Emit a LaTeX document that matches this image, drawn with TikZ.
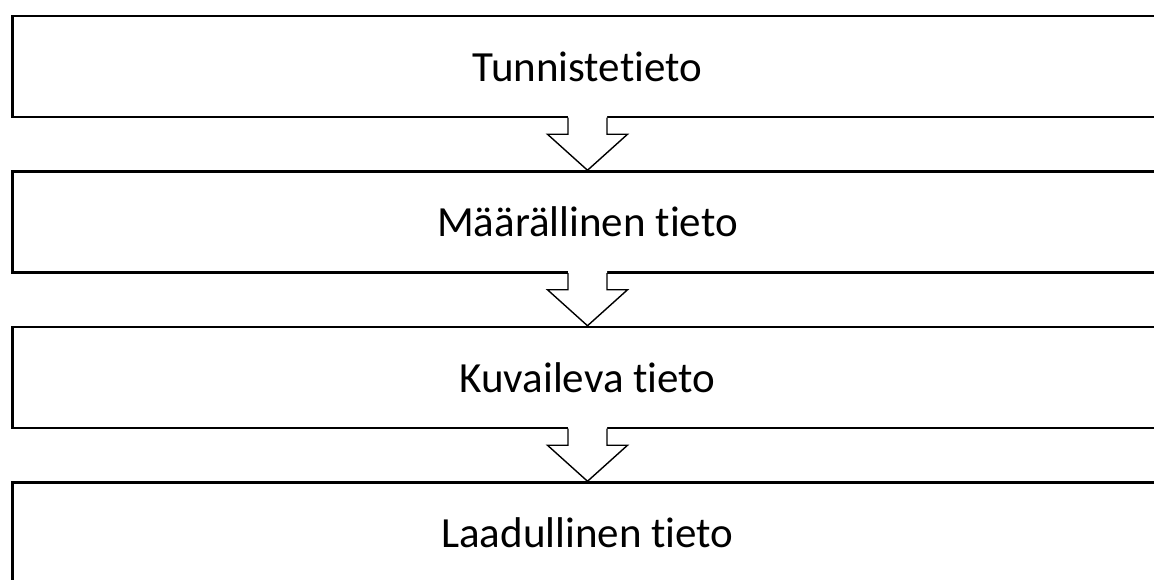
\documentclass[tikz,border=0pt]{standalone}
\usepackage{fontspec}
\setmainfont{Carlito}[Ligatures={NoCommon,NoRequired,NoContextual}]
\usetikzlibrary{calc}
\tikzset{
  stagebox/.style={draw=black, line width=2.5pt, fill=white, rectangle,
    minimum width=1150pt, minimum height=101pt, inner sep=0pt,
    font=\fontsize{43}{50}\selectfont},
  flowarrow/.style={draw=black, line width=1.4pt, line join=miter},
}
\begin{document}
\begin{tikzpicture}[x=1pt,y=-1pt]
\clip (0,0) rectangle (1154,579);
\fill[white] (0,0) rectangle (1154,579);
\node[stagebox] (b1) at (587.5,66.5) {Tunnistetieto};
\node[stagebox] (b2) at (587.5,222) {Määrällinen tieto};
\node[stagebox] (b3) at (587.5,377.5) {Kuvaileva tieto};
\node[stagebox] (b4) at (587.5,533) {Laadullinen tieto};
\foreach \u/\l in {b1/b2,b2/b3,b3/b4}{
  \fill[white] ($(\u.south)+(-19.5,-3.5)$) -- ($(\u.south)+(19.5,-3.5)$) -- ($(\u.south)+(19.5,16)$) -- ($(\u.south)+(40,16)$) -- (\l.north) -- ($(\u.south)+(-40,16)$) -- ($(\u.south)+(-19.5,16)$) -- cycle;
  \draw[flowarrow] ($(\u.south)+(-19.5,-0.7)$) -- ($(\u.south)+(-19.5,16)$) -- ($(\u.south)+(-40,16)$) -- (\l.north) -- ($(\u.south)+(40,16)$) -- ($(\u.south)+(19.5,16)$) -- ($(\u.south)+(19.5,-0.7)$);
}
\end{tikzpicture}
\end{document}
